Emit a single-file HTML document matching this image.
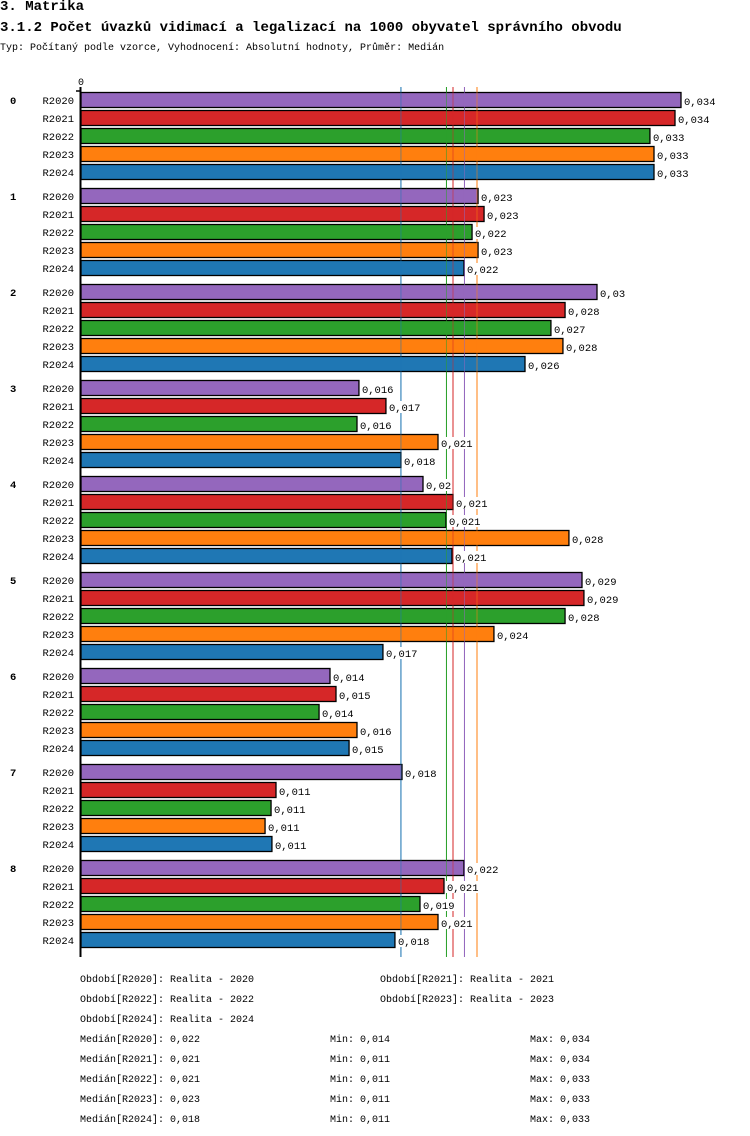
<!DOCTYPE html>
<html><head><meta charset="utf-8"><style>
body{margin:0;background:#fff;width:750px;height:1136px;overflow:hidden;font-family:"Liberation Mono","DejaVu Sans Mono",monospace}
.t{position:absolute;white-space:pre;color:#000}
</style></head><body>
<div class="t" style="left:0;top:-1px;font-size:14px;font-weight:bold">3. Matrika</div>
<div class="t" style="left:0;top:20px;font-size:14px;font-weight:bold">3.1.2 Počet úvazků vidimací a legalizací na 1000 obyvatel správního obvodu</div>
<div class="t" style="left:0;top:43px;font-size:10px">Typ: Počítaný podle vzorce, Vyhodnocení: Absolutní hodnoty, Průměr: Medián</div>
<svg id="chart" width="750" height="1136" style="position:absolute;left:0;top:0" font-family="Liberation Mono, DejaVu Sans Mono, monospace" font-size="10.5"></svg>
<script>
const groups=['0','1','2','3','4','5','6','7','8'];
const series=['R2020','R2021','R2022','R2023','R2024'];
const colors=['#9467bd','#d62728','#2ca02c','#ff7f0e','#1f77b4'];
const values=[
[.03400,.03366,.03224,.03247,.03247],
[.02250,.02284,.02216,.02250,.02170],
[.02924,.02743,.02663,.02731,.02516],
[.01575,.01728,.01564,.02023,.01813],
[.01938,.02108,.02068,.02765,.02102],
[.02839,.02850,.02743,.02340,.01711],
[.01411,.01445,.01349,.01564,.01519],
[.01819,.01105,.01077,.01043,.01082],
[.02170,.02057,.01921,.02023,.01779]];
const labels=[
['0,034','0,034','0,033','0,033','0,033'],
['0,023','0,023','0,022','0,023','0,022'],
['0,03','0,028','0,027','0,028','0,026'],
['0,016','0,017','0,016','0,021','0,018'],
['0,02','0,021','0,021','0,028','0,021'],
['0,029','0,029','0,028','0,024','0,017'],
['0,014','0,015','0,014','0,016','0,015'],
['0,018','0,011','0,011','0,011','0,011'],
['0,022','0,021','0,019','0,021','0,018']];
const medians=[.02173,.02108,.02071,.02244,.01813];
const medianLabels=['0,022','0,021','0,021','0,023','0,018'];
const mins=['0,014','0,011','0,011','0,011','0,011'];
const maxs=['0,034','0,034','0,033','0,033','0,033'];
const periods=['Realita - 2020','Realita - 2021','Realita - 2022','Realita - 2023','Realita - 2024'];

const svg=document.getElementById('chart');
const NS='http://www.w3.org/2000/svg';
const X0=81,K=17647;
const x=v=>X0+v*K;
const rowY=(g,s)=>92+g*96+s*18;
function mk(tag,attrs,parent){const e=document.createElementNS(NS,tag);for(const k in attrs)e.setAttribute(k,attrs[k]);(parent||svg).appendChild(e);return e;}
function txt(x0,y0,s,attrs){const e=mk('text',Object.assign({x:x0,y:y0},attrs||{}));e.textContent=s;return e;}

medians.forEach((m,i)=>{
  const l=mk('line',{x1:x(m),x2:x(m),y1:87,y2:957,stroke:colors[i],'stroke-width':1});
  
  
});
groups.forEach((g,gi)=>{
  const gl=txt(10,rowY(gi,0)+12,g,{'font-weight':'bold'});
  
  
  series.forEach((s,si)=>{
    const y=rowY(gi,si);
    const sl=txt(74,y+12,s,{'text-anchor':'end'});
    
    
    const r=mk('rect',{x:X0,y:y+0.5,width:x(values[gi][si])-X0,height:15,fill:colors[si],stroke:'#000','stroke-width':1.3});
    
    
  });
});
medians.forEach((m,i)=>{
  const l=mk('line',{x1:x(m),x2:x(m),y1:87,y2:957,stroke:colors[i],'stroke-width':1,'stroke-opacity':0.55});
  
  
});
groups.forEach((g,gi)=>{
  series.forEach((s,si)=>{
    const y=rowY(gi,si);
    const w=labels[gi][si].length*6.3+2;
    mk('rect',{x:x(values[gi][si])+2,y:y+3,width:w,height:12,fill:'#fff'});
    const vl=txt(x(values[gi][si])+3,y+13,labels[gi][si]);
    
    
  });
});
const ax=mk('line',{x1:80.5,x2:80.5,y1:87,y2:957,stroke:'#000','stroke-width':2});


mk('line',{x1:76,x2:81,y1:91,y2:91,stroke:'#000','stroke-width':1.5});
const z=txt(81,85,'0',{'text-anchor':'middle','font-size':10});



const per=[[80,982,0],[380,982,1],[80,1002,2],[380,1002,3],[80,1022,4]];
per.forEach(p=>{
  const t=txt(p[0],p[1],'Období['+series[p[2]]+']: '+periods[p[2]],{'font-size':10});
  
  
});
series.forEach((s,i)=>{
  const y=1042+i*20;
  const a=txt(80,y,'Medián['+s+']: '+medianLabels[i],{'font-size':10});
  
  
  const b=txt(330,y,'Min: '+mins[i],{'font-size':10});
  
  
  const c=txt(530,y,'Max: '+maxs[i],{'font-size':10});
  
  
});
</script>
</body></html>
